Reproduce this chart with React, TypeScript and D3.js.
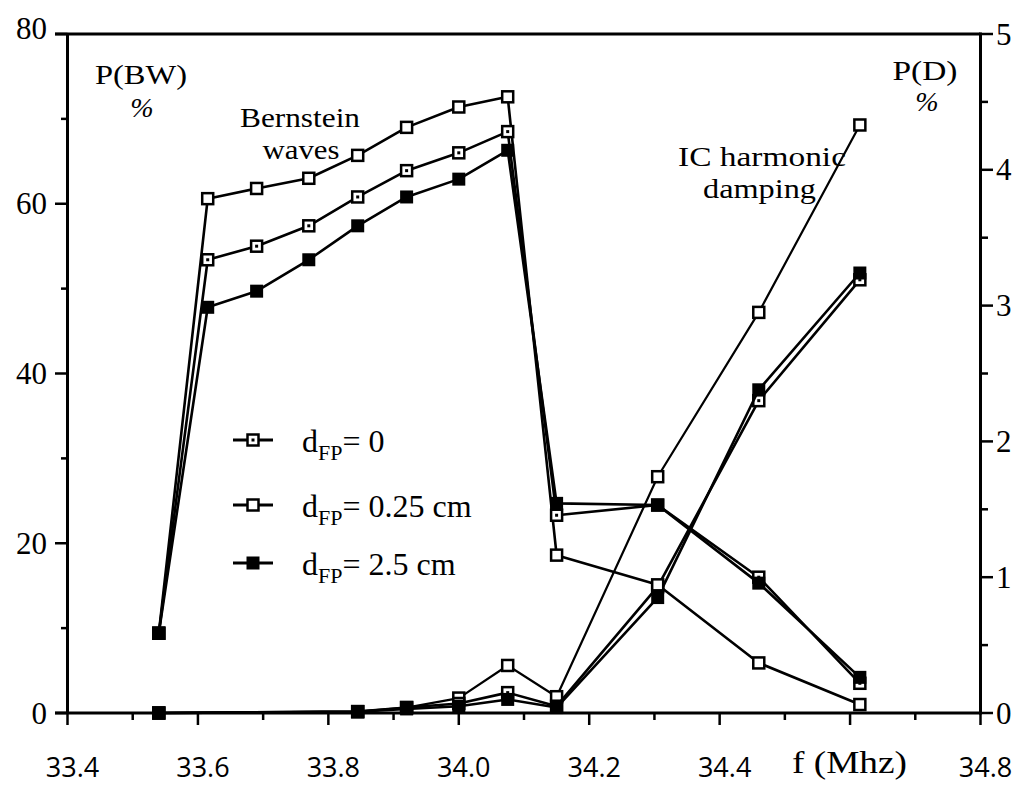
import React from "react";
import * as d3 from "d3";

// Frequencies (MHz) of the Bernstein-wave power points
const freqBW = [33.54, 33.615, 33.69, 33.77, 33.845, 33.92, 34.0, 34.075, 34.15, 34.305, 34.46, 34.615];
// P(BW) in %, left axis
const bwDfp0 = [9.4, 53.4, 55.0, 57.4, 60.8, 63.9, 66.0, 68.5, 23.3, 24.5, 16.0, 3.5];
const bwDfp025 = [9.4, 60.6, 61.8, 63.0, 65.7, 69.0, 71.4, 72.6, 18.6, 15.1, 5.9, 1.0];
const bwDfp25 = [9.4, 47.8, 49.7, 53.4, 57.4, 60.8, 62.9, 66.3, 24.7, 24.5, 15.3, 4.2];

// Frequencies (MHz) of the IC harmonic damping points
const freqD = [33.54, 33.845, 33.92, 34.0, 34.075, 34.15, 34.305, 34.46, 34.615];
// P(D) in %, right axis
const pdDfp0 = [0, 0.01, 0.04, 0.07, 0.15, 0.05, 0.93, 2.3, 3.19];
const pdDfp025 = [0, 0.01, 0.04, 0.11, 0.35, 0.12, 1.74, 2.95, 4.33];
const pdDfp25 = [0, 0.01, 0.03, 0.05, 0.1, 0.04, 0.85, 2.38, 3.24];

const xMajorTicks = [33.4, 33.6, 33.8, 34.0, 34.2, 34.4, 34.6, 34.8];
const xTickLabels = ["33.4", "33.6", "33.8", "34.0", "34.2", "34.4", "", "34.8"];
const xMinorTicks = [33.5, 33.7, 33.9, 34.1, 34.3, 34.5, 34.7];
const leftMajorTicks = [0, 20, 40, 60, 80];
const leftMinorTicks = [10, 30, 50, 70];
const rightMajorTicks = [0, 1, 2, 3, 4, 5];
const rightMinorTicks = [0.5, 1.5, 2.5, 3.5, 4.5];

const legendLabels = ["0", "0.25 cm", "2.5 cm"];

type Marker = "dot" | "open" | "filled";

const W = 1024;
const H = 785;
const X0 = 67.5;
const X1 = 980.5;
const Y0 = 713;
const Y1 = 34;

const x = d3.scaleLinear().domain([33.4, 34.8]).range([X0, X1]);
const yL = d3.scaleLinear().domain([0, 80]).range([Y0, Y1]);
const yR = d3.scaleLinear().domain([0, 5]).range([Y0, Y1]);

const serif = "'Liberation Serif', 'Times New Roman', serif";
const sans = "'Open Sans', 'DejaVu Sans', sans-serif";

function MarkerShape({ cx, cy, kind }: { cx: number; cy: number; kind: Marker }) {
  const s = 11;
  if (kind === "filled") {
    return <rect x={cx - 6.5} y={cy - 6.5} width={13} height={13} fill="#000" />;
  }
  return (
    <g>
      <rect x={cx - s / 2} y={cy - s / 2} width={s} height={s} fill="#fff" stroke="#000" strokeWidth={2.5} />
      {kind === "dot" && <rect x={cx - 1.5} y={cy - 1.5} width={3} height={3} fill="#000" />}
    </g>
  );
}

function Series({
  xs,
  ys,
  yScale,
  kind,
  width,
}: {
  xs: number[];
  ys: number[];
  yScale: d3.ScaleLinear<number, number>;
  kind: Marker;
  width: number;
}) {
  const pts: [number, number][] = xs.map((f, i) => [x(f), yScale(ys[i])]);
  const path = d3.line()(pts) || "";
  return (
    <g>
      <path d={path} fill="none" stroke="#000" strokeWidth={width} strokeLinejoin="round" />
      {pts.map((p, i) => (
        <MarkerShape key={i} cx={p[0]} cy={p[1]} kind={kind} />
      ))}
    </g>
  );
}

function Label({
  x,
  y,
  len,
  size = 28,
  anchor = "start",
  italic = false,
  children,
}: {
  x: number;
  y: number;
  len?: number;
  size?: number;
  anchor?: "start" | "middle" | "end";
  italic?: boolean;
  children: React.ReactNode;
}) {
  return (
    <text
      x={x}
      y={y}
      fontFamily={serif}
      fontSize={size}
      fontStyle={italic ? "italic" : "normal"}
      textAnchor={anchor}
      fill="#000"
      {...(len ? { textLength: len, lengthAdjust: "spacingAndGlyphs" } : {})}
    >
      {children}
    </text>
  );
}

export default function App() {
  const legendKinds: Marker[] = ["dot", "open", "filled"];
  const legendY = [440, 505, 563];
  return (
    <svg
      width={W}
      height={H}
      viewBox={`0 0 ${W} ${H}`}
      style={{ position: "absolute", left: 0, top: 0, background: "#fff" }}
    >
      <rect x={0} y={0} width={W} height={H} fill="#fff" />

      {/* frame and axes */}
      <g stroke="#000" strokeWidth={3} fill="none">
        <line x1={55} x2={X1} y1={Y1} y2={Y1} />
        <line x1={55} x2={X1} y1={Y0} y2={Y0} />
        <line x1={X0} x2={X0} y1={Y1} y2={Y0} />
        <line x1={X1} x2={X1} y1={Y1 - 1.5} y2={Y0 + 1.5} />
      </g>

      {/* ticks */}
      <g stroke="#000" strokeWidth={2.5}>
        {leftMajorTicks.map((t) => (
          <line key={`lm${t}`} x1={55} x2={X0} y1={yL(t)} y2={yL(t)} />
        ))}
        {leftMinorTicks.map((t) => (
          <line key={`ln${t}`} x1={61} x2={X0} y1={yL(t)} y2={yL(t)} />
        ))}
        {rightMajorTicks.map((t) => (
          <line key={`rm${t}`} x1={X1} x2={993} y1={yR(t)} y2={yR(t)} />
        ))}
        {rightMinorTicks.map((t) => (
          <line key={`rn${t}`} x1={X1} x2={988} y1={yR(t)} y2={yR(t)} />
        ))}
        {xMajorTicks.map((t) => (
          <line key={`xm${t}`} x1={x(t)} x2={x(t)} y1={Y0} y2={Y0 + 12} />
        ))}
        {xMinorTicks.map((t) => (
          <line key={`xn${t}`} x1={x(t)} x2={x(t)} y1={Y0} y2={Y0 + 7} />
        ))}
      </g>

      {/* tick labels */}
      <g fontFamily={serif} fontSize={31} fill="#000">
        {leftMajorTicks.map((t) => (
          <text key={`ll${t}`} x={47} y={yL(t) - (t === 80 ? 6 : 0)} textAnchor="end" dominantBaseline="central">
            {t}
          </text>
        ))}
        {rightMajorTicks.map((t) => (
          <text key={`rl${t}`} x={996} y={yR(t)} textAnchor="start" dominantBaseline="central">
            {t}
          </text>
        ))}
      </g>
      <g fontFamily={sans} fontSize={27} fill="#000">
        {xMajorTicks.map((t, i) =>
          xTickLabels[i] ? (
            <text key={`xl${t}`} x={x(t) + 5} y={777} textAnchor="middle">
              {xTickLabels[i]}
            </text>
          ) : null
        )}
      </g>
      <Label x={792} y={773} size={32} len={115}>f (Mhz)</Label>

      {/* axis titles and annotations */}
      <Label x={141} y={84} anchor="middle" len={92}>P(BW)</Label>
      <Label x={142} y={117} anchor="middle" size={28} italic>%</Label>
      <Label x={925} y={80} anchor="middle" len={65}>P(D)</Label>
      <Label x={927} y={111} anchor="middle" size={28} italic>%</Label>
      <Label x={300} y={127} anchor="middle" len={120}>Bernstein</Label>
      <Label x={301} y={159} anchor="middle" len={77}>waves</Label>
      <Label x={678} y={166} len={168}>IC harmonic</Label>
      <Label x={703} y={198} len={113}>damping</Label>

      {/* P(D) curves, right axis */}
      <Series xs={freqD} ys={pdDfp025} yScale={yR} kind="open" width={2.2} />
      <Series xs={freqD} ys={pdDfp0} yScale={yR} kind="dot" width={2.6} />
      <Series xs={freqD} ys={pdDfp25} yScale={yR} kind="filled" width={2.6} />

      {/* P(BW) curves, left axis */}
      <Series xs={freqBW} ys={bwDfp025} yScale={yL} kind="open" width={2.6} />
      <Series xs={freqBW} ys={bwDfp0} yScale={yL} kind="dot" width={2.6} />
      <Series xs={freqBW} ys={bwDfp25} yScale={yL} kind="filled" width={2.6} />

      {/* legend */}
      <g>
        {legendKinds.map((k, i) => (
          <g key={k}>
            <line x1={233} x2={273} y1={legendY[i]} y2={legendY[i]} stroke="#000" strokeWidth={3} />
            <MarkerShape cx={253} cy={legendY[i]} kind={k} />
            <text x={302} y={legendY[i] + 12} fontFamily={serif} fontSize={32} fill="#000">
              d
              <tspan fontSize={22} dy={8}>FP</tspan>
              <tspan dy={-8}>{"= " + legendLabels[i]}</tspan>
            </text>
          </g>
        ))}
      </g>
    </svg>
  );
}
